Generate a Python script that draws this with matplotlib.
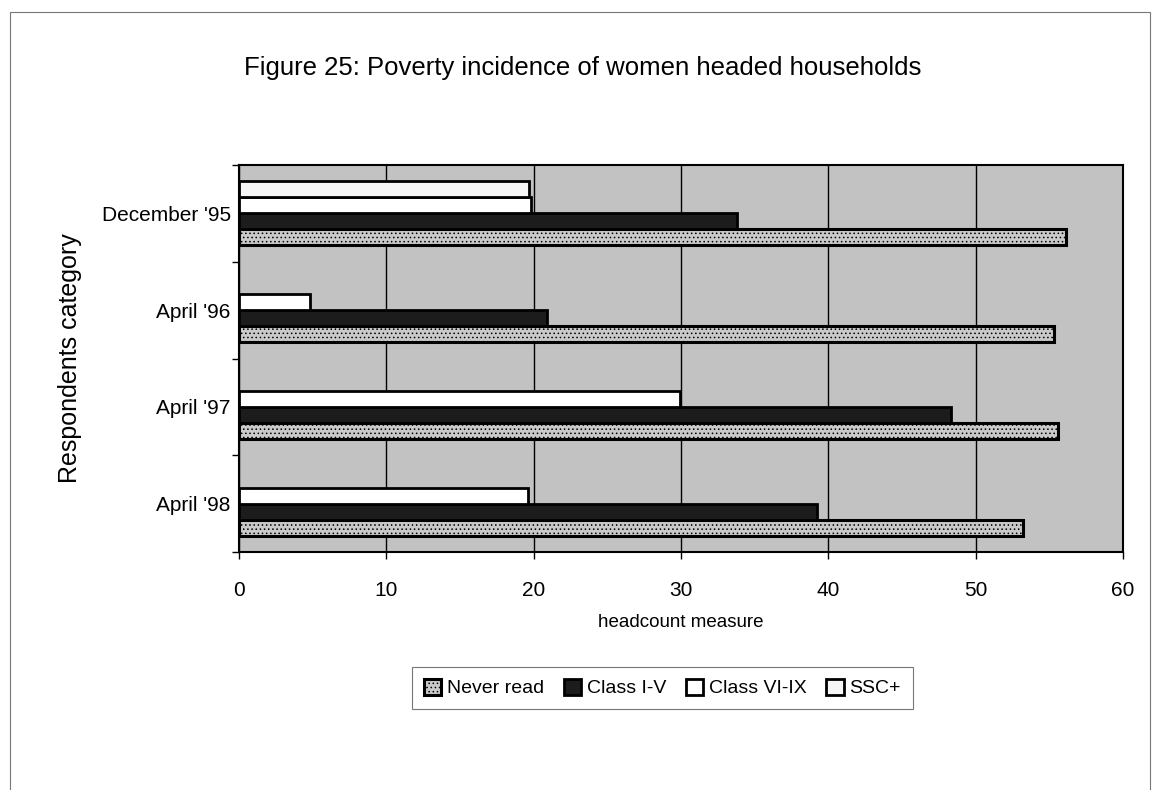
import matplotlib
matplotlib.use("Agg")
import matplotlib.pyplot as plt
from matplotlib.patches import Rectangle
import numpy as np

# Data
categories = ["April '98", "April '97", "April '96", "December '95"]
series_names = ["Never read", "Class I-V", "Class VI-IX", "SSC+"]
never_read = [53.2, 55.6, 55.3, 56.1]
class_1_5 = [39.2, 48.3, 20.9, 33.8]
class_6_9 = [19.6, 29.9, 4.8, 19.8]
ssc_plus = [0.0, 0.0, 0.0, 19.7]
x_ticks = [0, 10, 20, 30, 40, 50, 60]

regular = ["Liberation Sans", "DejaVu Sans"]

fig = plt.figure(figsize=(11.6, 7.9), dpi=100)
fig.patch.set_facecolor("white")

# Outer chart frame
fig.add_artist(Rectangle((10 / 1160, -0.02), 1140 / 1160, 1 - 12 / 790 + 0.02,
                         transform=fig.transFigure, fill=False,
                         edgecolor="#777777", linewidth=0.8))

ax = fig.add_axes([239 / 1160, 1 - 552 / 790, (1123 - 239) / 1160, (552 - 165) / 790])
ax.set_facecolor("#c2c2c2")

plt.rcParams["hatch.color"] = "#6e6e6e"
plt.rcParams["hatch.linewidth"] = 0.6

styles = [
    dict(facecolor="#c9c9c9", edgecolor="black", hatch="....", linewidth=2.2),
    dict(facecolor="#1c1c1c", edgecolor="black", linewidth=2.0),
    dict(facecolor="white", edgecolor="black", linewidth=2.0),
    dict(facecolor="#f6f6f6", edgecolor="black", linewidth=2.0),
]
values = [never_read, class_1_5, class_6_9, ssc_plus]

n = len(categories)
bar_h = 0.165
centers = np.arange(n) + 0.5
offsets = [-1.5, -0.5, 0.5, 1.5]

ax.set_xlim(0, 60)
ax.set_ylim(0, n)
ax.set_axisbelow(True)
ax.grid(axis="x", color="black", linewidth=1.0)

handles = []
for vals, name, st, off in zip(values, series_names, styles, offsets):
    ys = centers + off * bar_h
    keep = [i for i, v in enumerate(vals) if v > 0]
    b = ax.barh([ys[i] for i in keep], [vals[i] for i in keep],
                height=bar_h, label=name, zorder=3, **st)
    handles.append(b)

# Axes styling
ax.set_xticks(x_ticks)
ax.set_xticklabels([str(t) for t in x_ticks], fontsize=15, family=regular)
ax.set_yticks(np.arange(n + 1), minor=False)
ax.set_yticklabels([""] * (n + 1))
ax.set_yticks(centers, minor=True)
ax.set_yticklabels(categories, minor=True, fontsize=15, family=regular)
ax.tick_params(axis="y", which="minor", length=0, pad=6)
ax.tick_params(axis="y", which="major", length=5, width=1, direction="out")
ax.tick_params(axis="x", length=5, width=1, direction="out", pad=16)
for s in ax.spines.values():
    s.set_linewidth(1.5)
    s.set_color("black")

ax.set_xlabel("headcount measure", fontsize=13.5, family=regular, labelpad=10)
ax.set_ylabel("Respondents category", fontsize=18, family=regular, labelpad=14)

fig.text(0.502, 0.914, "Figure 25: Poverty incidence of women headed households",
         ha="center", va="center", fontsize=18.5, family=regular)

leg = fig.legend(handles=handles, labels=series_names, loc="center",
                 bbox_to_anchor=(0.571, 0.129), ncol=4, frameon=True,
                 fancybox=False, edgecolor="#555555",
                 prop={"family": regular, "size": 14},
                 handlelength=0.9, handleheight=0.9, handletextpad=0.3,
                 columnspacing=1.0, borderpad=0.6)
leg.get_frame().set_linewidth(0.8)

fig.savefig("out.png", dpi=100, facecolor="white")
